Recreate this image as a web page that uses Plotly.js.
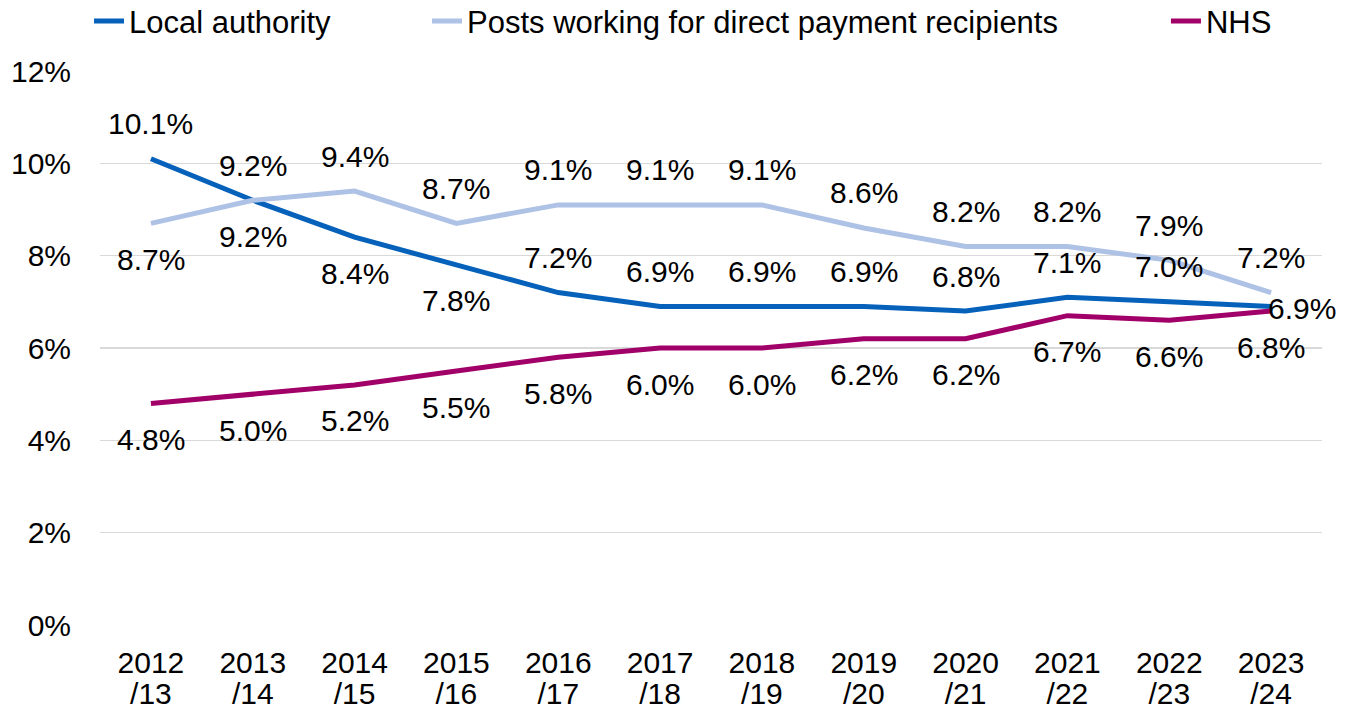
<!DOCTYPE html>
<html>
<head>
<meta charset="utf-8">
<script src="https://cdn.plot.ly/plotly-3.0.1.min.js"></script>
<style>html,body{margin:0;padding:0;background:#fff;}#chart{width:1359px;height:713px;}</style>
</head>
<body>
<div id="chart"></div>
<script>
// ---- data ----
var years = ['2012/13','2013/14','2014/15','2015/16','2016/17','2017/18','2018/19','2019/20','2020/21','2021/22','2022/23','2023/24'];
var localAuthority = [10.1, 9.2, 8.4, 7.8, 7.2, 6.9, 6.9, 6.9, 6.8, 7.1, 7.0, 6.9];
var directPayment  = [8.7, 9.2, 9.4, 8.7, 9.1, 9.1, 9.1, 8.6, 8.2, 8.2, 7.9, 7.2];
var nhs            = [4.8, 5.0, 5.2, 5.5, 5.8, 6.0, 6.0, 6.2, 6.2, 6.7, 6.6, 6.8];
var yTicks = [0, 2, 4, 6, 8, 10, 12];

// ---- label placement (separate from data) ----
var laPos  = ['above','below','below','below','above','above','above','above','above','above','above','right'];
var dpPos  = ['below','above','above','above','above','above','above','above','above','above','above','above'];
var nhsPos = ['below','below','below','below','below','below','below','below','below','below','below','below'];

var FONT = 'Liberation Sans, Arial, sans-serif';
var FS = 30;
var LFS = 31;
var colors = {la: '#0561BA', dp: '#AEC2E6', nhs: '#A10068'};

// two-line category labels: first line on x, second line on overlaid x2
var firstLine = years.map(function(y){ return y.split('/')[0]; });
var secondLine = years.map(function(y){ return '/' + y.split('/')[1]; });
var idx = years.map(function(y, i){ return i; });

var series = [
  {name: 'Local authority', y: localAuthority, color: colors.la, pos: laPos, legend: 'legend'},
  {name: 'Posts working for direct payment recipients', y: directPayment, color: colors.dp, pos: dpPos, legend: 'legend2'},
  {name: 'NHS', y: nhs, color: colors.nhs, pos: nhsPos, legend: 'legend3'}
];

var traces = series.map(function(s){
  return {
    type: 'scatter', mode: 'lines', name: s.name,
    x: years, y: s.y, legend: s.legend,
    line: {color: s.color, width: 5},
    hoverinfo: 'skip'
  };
});
// empty helper trace so the overlaid second-line axis is drawn
traces.push({type: 'scatter', mode: 'lines', x: [], y: [], xaxis: 'x2', yaxis: 'y', showlegend: false, hoverinfo: 'skip'});

var annotations = [];
series.forEach(function(s){
  s.y.forEach(function(v, i){
    var p = s.pos[i];
    var a = {
      x: years[i], y: v, xref: 'x', yref: 'y',
      text: v.toFixed(1) + '%', showarrow: false,
      font: {family: FONT, size: FS, color: '#000'},
      xanchor: 'center', yanchor: 'middle'
    };
    if (p === 'above') a.yshift = 35;
    else if (p === 'below') a.yshift = -36;
    else if (p === 'right') { a.xanchor = 'left'; a.xshift = -5; a.yshift = -2; }
    annotations.push(a);
  });
});

function legendAt(x){
  return {
    orientation: 'h', x: x, xanchor: 'left', y: 1.0894, yanchor: 'middle',
    font: {family: FONT, size: LFS, color: '#000'},
    bgcolor: 'rgba(0,0,0,0)'
  };
}

var tickFont = {family: FONT, size: FS, color: '#000'};

var layout = {
  width: 1359, height: 713,
  margin: {l: 100, r: 37, t: 71, b: 88, autoexpand: false},
  paper_bgcolor: '#fff', plot_bgcolor: '#fff',
  font: {family: FONT, size: FS, color: '#000'},
  showlegend: true,
  legend: legendAt(-0.009),
  legend2: legendAt(0.2676),
  legend3: legendAt(0.8723),
  xaxis: {
    type: 'category', range: [-0.5, 11.5],
    tickmode: 'array', tickvals: years, ticktext: firstLine,
    showgrid: false, zeroline: false, showline: false, ticks: '',
    ticklabelstandoff: 17, automargin: false,
    tickfont: tickFont
  },
  xaxis2: {
    overlaying: 'x', anchor: 'y', side: 'bottom',
    range: [-0.5, 11.5],
    tickmode: 'array', tickvals: idx, ticktext: secondLine,
    showgrid: false, zeroline: false, showline: false, ticks: '',
    ticklabelstandoff: 48, automargin: false,
    tickfont: tickFont
  },
  yaxis: {
    range: [0, 12], tickmode: 'array', tickvals: yTicks,
    ticktext: yTicks.map(function(t){ return t + '%'; }),
    showgrid: true, gridcolor: '#D9D9D9', gridwidth: 1.3,
    zeroline: false, showline: false, ticks: '',
    ticklabelstandoff: 28, automargin: false,
    tickfont: tickFont
  },
  annotations: annotations
};

Plotly.newPlot('chart', traces, layout, {displayModeBar: false, staticPlot: true});
</script>
</body>
</html>
